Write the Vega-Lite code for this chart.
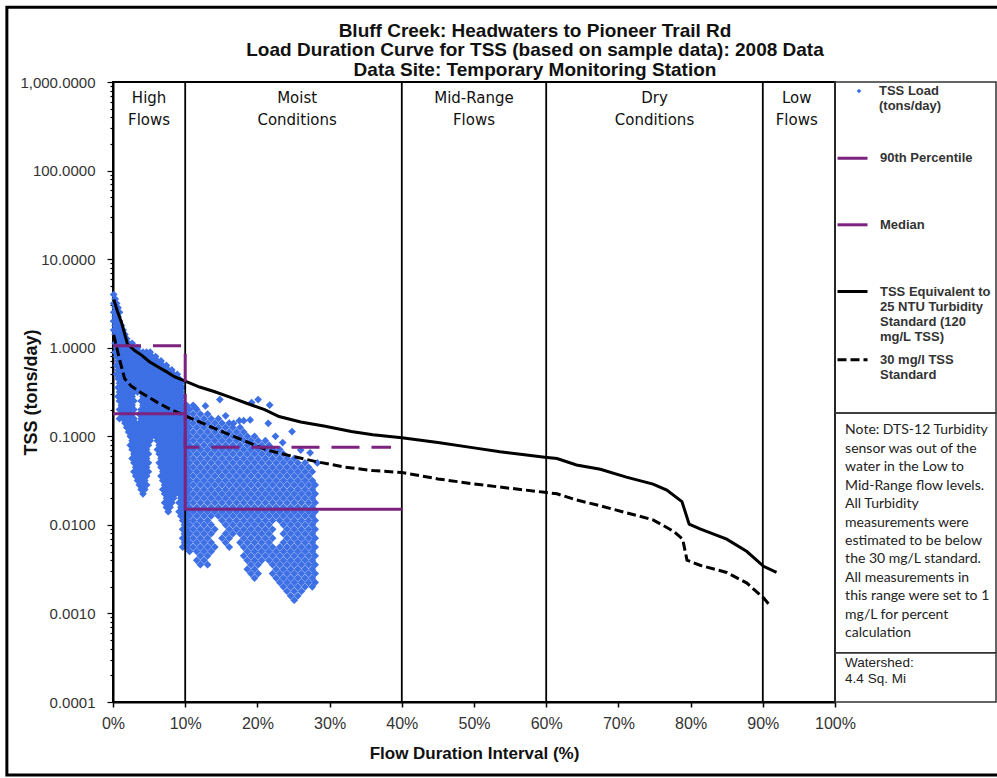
{
"$schema": "https://vega.github.io/schema/vega-lite/v6.json",
"width": 722, "height": 620,
"autosize": "none",
"padding": {"left": 113, "top": 82, "right": 162, "bottom": 76},
"background": "white",
"config": {"font": "Liberation Sans", "view": {"stroke": "black", "strokeWidth": 2},
  "legend": {"orient": "none", "title": null, "padding": 0, "labelFont": "Liberation Sans", "labelFontWeight": "bold", "labelFontSize": 13, "labelColor": "#333", "labelLimit": 200, "labelBaseline": "middle"}},
"title": {"text": ["Bluff Creek: Headwaters to Pioneer Trail Rd", "Load Duration Curve for TSS (based on sample data): 2008 Data", "Data Site: Temporary Monitoring Station"], "font": "Liberation Sans", "fontSize": 19, "fontWeight": "bold", "color": "#111", "anchor": "middle", "dx": 61, "offset": -74, "lineHeight": 19.5},
"datasets": {
"pts": [
{"x":0.1,"y":3.98},{"x":0.1,"y":3.16},{"x":0.1,"y":2.51},{"x":0.1,"y":2.0},{"x":0.1,"y":1.58},
{"x":0.3,"y":3.55},{"x":0.3,"y":2.82},{"x":0.3,"y":2.24},{"x":0.3,"y":1.78},{"x":0.3,"y":1.41},{"x":0.3,"y":1.12},{"x":0.3,"y":0.891},
{"x":0.5,"y":3.16},{"x":0.5,"y":2.51},{"x":0.5,"y":2.0},{"x":0.5,"y":1.58},{"x":0.5,"y":1.26},{"x":0.5,"y":1.0},{"x":0.5,"y":0.794},{"x":0.5,"y":0.631},{"x":0.5,"y":0.501},
{"x":0.7,"y":2.82},{"x":0.7,"y":2.24},{"x":0.7,"y":1.78},{"x":0.7,"y":1.41},{"x":0.7,"y":1.12},{"x":0.7,"y":0.891},{"x":0.7,"y":0.708},{"x":0.7,"y":0.562},{"x":0.7,"y":0.447},{"x":0.7,"y":0.355},{"x":0.7,"y":0.282},
{"x":0.9,"y":2.51},{"x":0.9,"y":2.0},{"x":0.9,"y":1.58},{"x":0.9,"y":1.26},{"x":0.9,"y":1.0},{"x":0.9,"y":0.794},{"x":0.9,"y":0.631},{"x":0.9,"y":0.501},{"x":0.9,"y":0.398},{"x":0.9,"y":0.316},{"x":0.9,"y":0.251},{"x":0.9,"y":0.2},{"x":0.9,"y":0.158},
{"x":1.15,"y":1.78},{"x":1.15,"y":1.41},{"x":1.15,"y":1.12},{"x":1.15,"y":0.891},{"x":1.15,"y":0.708},{"x":1.15,"y":0.562},{"x":1.15,"y":0.447},{"x":1.15,"y":0.355},{"x":1.15,"y":0.282},{"x":1.15,"y":0.224},{"x":1.15,"y":0.178},
{"x":1.4,"y":1.58},{"x":1.4,"y":1.26},{"x":1.4,"y":1.0},{"x":1.4,"y":0.794},{"x":1.4,"y":0.631},{"x":1.4,"y":0.501},{"x":1.4,"y":0.398},{"x":1.4,"y":0.316},{"x":1.4,"y":0.251},{"x":1.4,"y":0.2},{"x":1.4,"y":0.158},
{"x":1.65,"y":1.41},{"x":1.65,"y":1.12},{"x":1.65,"y":0.891},{"x":1.65,"y":0.708},{"x":1.65,"y":0.562},{"x":1.65,"y":0.447},{"x":1.65,"y":0.355},{"x":1.65,"y":0.282},{"x":1.65,"y":0.224},{"x":1.65,"y":0.178},{"x":1.65,"y":0.141},
{"x":1.9,"y":1.26},{"x":1.9,"y":1.0},{"x":1.9,"y":0.794},{"x":1.9,"y":0.631},{"x":1.9,"y":0.501},{"x":1.9,"y":0.398},{"x":1.9,"y":0.316},{"x":1.9,"y":0.251},{"x":1.9,"y":0.2},{"x":1.9,"y":0.158},{"x":1.9,"y":0.126},
{"x":2.15,"y":1.12},{"x":2.15,"y":0.891},{"x":2.15,"y":0.708},{"x":2.15,"y":0.562},{"x":2.15,"y":0.447},{"x":2.15,"y":0.355},{"x":2.15,"y":0.282},{"x":2.15,"y":0.224},{"x":2.15,"y":0.178},{"x":2.15,"y":0.141},{"x":2.15,"y":0.112},
{"x":2.4,"y":1.0},{"x":2.4,"y":0.794},{"x":2.4,"y":0.631},{"x":2.4,"y":0.501},{"x":2.4,"y":0.398},{"x":2.4,"y":0.316},{"x":2.4,"y":0.251},{"x":2.4,"y":0.2},{"x":2.4,"y":0.158},{"x":2.4,"y":0.126},{"x":2.4,"y":0.1},{"x":2.4,"y":0.0794},
{"x":2.65,"y":1.12},{"x":2.65,"y":0.891},{"x":2.65,"y":0.708},{"x":2.65,"y":0.562},{"x":2.65,"y":0.447},{"x":2.65,"y":0.355},{"x":2.65,"y":0.282},{"x":2.65,"y":0.224},{"x":2.65,"y":0.178},{"x":2.65,"y":0.141},{"x":2.65,"y":0.112},{"x":2.65,"y":0.0891},{"x":2.65,"y":0.0708},{"x":2.65,"y":0.0562},
{"x":2.9,"y":1.0},{"x":2.9,"y":0.794},{"x":2.9,"y":0.631},{"x":2.9,"y":0.501},{"x":2.9,"y":0.398},{"x":2.9,"y":0.316},{"x":2.9,"y":0.251},{"x":2.9,"y":0.2},{"x":2.9,"y":0.158},{"x":2.9,"y":0.126},{"x":2.9,"y":0.1},{"x":2.9,"y":0.0794},{"x":2.9,"y":0.0631},{"x":2.9,"y":0.0501},{"x":2.9,"y":0.0398},
{"x":3.15,"y":0.891},{"x":3.15,"y":0.708},{"x":3.15,"y":0.562},{"x":3.15,"y":0.447},{"x":3.15,"y":0.355},{"x":3.15,"y":0.141},{"x":3.15,"y":0.112},{"x":3.15,"y":0.0891},{"x":3.15,"y":0.0708},{"x":3.15,"y":0.0562},{"x":3.15,"y":0.0447},{"x":3.15,"y":0.0355},
{"x":3.4,"y":1.0},{"x":3.4,"y":0.794},{"x":3.4,"y":0.631},{"x":3.4,"y":0.501},{"x":3.4,"y":0.398},{"x":3.4,"y":0.316},{"x":3.4,"y":0.126},{"x":3.4,"y":0.1},{"x":3.4,"y":0.0794},{"x":3.4,"y":0.0631},{"x":3.4,"y":0.0501},{"x":3.4,"y":0.0398},{"x":3.4,"y":0.0316},
{"x":3.65,"y":0.891},{"x":3.65,"y":0.708},{"x":3.65,"y":0.562},{"x":3.65,"y":0.447},{"x":3.65,"y":0.355},{"x":3.65,"y":0.178},{"x":3.65,"y":0.141},{"x":3.65,"y":0.112},{"x":3.65,"y":0.0891},{"x":3.65,"y":0.0708},{"x":3.65,"y":0.0562},{"x":3.65,"y":0.0447},{"x":3.65,"y":0.0355},{"x":3.65,"y":0.0282},
{"x":3.9,"y":0.794},{"x":3.9,"y":0.631},{"x":3.9,"y":0.501},{"x":3.9,"y":0.398},{"x":3.9,"y":0.316},{"x":3.9,"y":0.251},{"x":3.9,"y":0.2},{"x":3.9,"y":0.158},{"x":3.9,"y":0.126},{"x":3.9,"y":0.1},{"x":3.9,"y":0.0794},{"x":3.9,"y":0.0631},{"x":3.9,"y":0.0501},{"x":3.9,"y":0.0398},{"x":3.9,"y":0.0316},{"x":3.9,"y":0.0251},
{"x":4.15,"y":0.891},{"x":4.15,"y":0.708},{"x":4.15,"y":0.562},{"x":4.15,"y":0.447},{"x":4.15,"y":0.355},{"x":4.15,"y":0.282},{"x":4.15,"y":0.224},{"x":4.15,"y":0.178},{"x":4.15,"y":0.141},{"x":4.15,"y":0.112},{"x":4.15,"y":0.0891},{"x":4.15,"y":0.0708},{"x":4.15,"y":0.0562},{"x":4.15,"y":0.0447},{"x":4.15,"y":0.0355},{"x":4.15,"y":0.0282},{"x":4.15,"y":0.0224},
{"x":4.4,"y":0.794},{"x":4.4,"y":0.631},{"x":4.4,"y":0.501},{"x":4.4,"y":0.398},{"x":4.4,"y":0.316},{"x":4.4,"y":0.251},{"x":4.4,"y":0.2},{"x":4.4,"y":0.158},{"x":4.4,"y":0.126},{"x":4.4,"y":0.1},{"x":4.4,"y":0.0794},{"x":4.4,"y":0.0631},{"x":4.4,"y":0.0501},{"x":4.4,"y":0.0398},{"x":4.4,"y":0.0316},{"x":4.4,"y":0.0251},
{"x":4.65,"y":0.891},{"x":4.65,"y":0.708},{"x":4.65,"y":0.562},{"x":4.65,"y":0.447},{"x":4.65,"y":0.355},{"x":4.65,"y":0.282},{"x":4.65,"y":0.224},{"x":4.65,"y":0.178},{"x":4.65,"y":0.141},{"x":4.65,"y":0.112},{"x":4.65,"y":0.0891},{"x":4.65,"y":0.0708},{"x":4.65,"y":0.0562},{"x":4.65,"y":0.0447},{"x":4.65,"y":0.0355},{"x":4.65,"y":0.0282},
{"x":4.9,"y":0.794},{"x":4.9,"y":0.631},{"x":4.9,"y":0.501},{"x":4.9,"y":0.398},{"x":4.9,"y":0.316},{"x":4.9,"y":0.251},{"x":4.9,"y":0.2},{"x":4.9,"y":0.158},{"x":4.9,"y":0.126},{"x":4.9,"y":0.1},{"x":4.9,"y":0.0794},{"x":4.9,"y":0.0631},{"x":4.9,"y":0.0501},{"x":4.9,"y":0.0398},
{"x":5.15,"y":0.891},{"x":5.15,"y":0.708},{"x":5.15,"y":0.562},{"x":5.15,"y":0.447},{"x":5.15,"y":0.355},{"x":5.15,"y":0.282},{"x":5.15,"y":0.224},{"x":5.15,"y":0.178},{"x":5.15,"y":0.141},{"x":5.15,"y":0.112},{"x":5.15,"y":0.0891},
{"x":5.4,"y":0.794},{"x":5.4,"y":0.631},{"x":5.4,"y":0.501},{"x":5.4,"y":0.398},{"x":5.4,"y":0.316},{"x":5.4,"y":0.251},{"x":5.4,"y":0.2},{"x":5.4,"y":0.158},{"x":5.4,"y":0.126},{"x":5.4,"y":0.1},
{"x":5.65,"y":0.708},{"x":5.65,"y":0.562},{"x":5.65,"y":0.447},{"x":5.65,"y":0.355},{"x":5.65,"y":0.282},{"x":5.65,"y":0.224},{"x":5.65,"y":0.178},{"x":5.65,"y":0.141},{"x":5.65,"y":0.112},
{"x":5.9,"y":0.794},{"x":5.9,"y":0.631},{"x":5.9,"y":0.501},{"x":5.9,"y":0.398},{"x":5.9,"y":0.316},{"x":5.9,"y":0.251},{"x":5.9,"y":0.2},{"x":5.9,"y":0.158},{"x":5.9,"y":0.126},{"x":5.9,"y":0.1},
{"x":6.15,"y":0.708},{"x":6.15,"y":0.562},{"x":6.15,"y":0.447},{"x":6.15,"y":0.355},{"x":6.15,"y":0.282},{"x":6.15,"y":0.224},{"x":6.15,"y":0.178},{"x":6.15,"y":0.141},{"x":6.15,"y":0.112},{"x":6.15,"y":0.0891},{"x":6.15,"y":0.0708},
{"x":6.4,"y":0.631},{"x":6.4,"y":0.501},{"x":6.4,"y":0.398},{"x":6.4,"y":0.316},{"x":6.4,"y":0.251},{"x":6.4,"y":0.2},{"x":6.4,"y":0.158},{"x":6.4,"y":0.126},{"x":6.4,"y":0.1},{"x":6.4,"y":0.0794},{"x":6.4,"y":0.0631},{"x":6.4,"y":0.0501},
{"x":6.65,"y":0.708},{"x":6.65,"y":0.562},{"x":6.65,"y":0.447},{"x":6.65,"y":0.355},{"x":6.65,"y":0.282},{"x":6.65,"y":0.224},{"x":6.65,"y":0.178},{"x":6.65,"y":0.141},{"x":6.65,"y":0.112},{"x":6.65,"y":0.0891},{"x":6.65,"y":0.0708},{"x":6.65,"y":0.0562},{"x":6.65,"y":0.0447},{"x":6.65,"y":0.0355},
{"x":6.9,"y":0.631},{"x":6.9,"y":0.501},{"x":6.9,"y":0.398},{"x":6.9,"y":0.316},{"x":6.9,"y":0.251},{"x":6.9,"y":0.2},{"x":6.9,"y":0.158},{"x":6.9,"y":0.126},{"x":6.9,"y":0.1},{"x":6.9,"y":0.0794},{"x":6.9,"y":0.0631},{"x":6.9,"y":0.0501},{"x":6.9,"y":0.0398},{"x":6.9,"y":0.0316},{"x":6.9,"y":0.0251},
{"x":7.15,"y":0.562},{"x":7.15,"y":0.447},{"x":7.15,"y":0.355},{"x":7.15,"y":0.282},{"x":7.15,"y":0.224},{"x":7.15,"y":0.178},{"x":7.15,"y":0.141},{"x":7.15,"y":0.112},{"x":7.15,"y":0.0891},{"x":7.15,"y":0.0708},{"x":7.15,"y":0.0562},{"x":7.15,"y":0.0447},{"x":7.15,"y":0.0355},{"x":7.15,"y":0.0282},{"x":7.15,"y":0.0224},{"x":7.15,"y":0.0178},
{"x":7.4,"y":0.631},{"x":7.4,"y":0.501},{"x":7.4,"y":0.398},{"x":7.4,"y":0.316},{"x":7.4,"y":0.251},{"x":7.4,"y":0.2},{"x":7.4,"y":0.158},{"x":7.4,"y":0.126},{"x":7.4,"y":0.1},{"x":7.4,"y":0.0794},{"x":7.4,"y":0.0631},{"x":7.4,"y":0.0501},{"x":7.4,"y":0.0398},{"x":7.4,"y":0.0316},{"x":7.4,"y":0.0251},{"x":7.4,"y":0.02},{"x":7.4,"y":0.0158},
{"x":7.65,"y":0.562},{"x":7.65,"y":0.447},{"x":7.65,"y":0.355},{"x":7.65,"y":0.282},{"x":7.65,"y":0.224},{"x":7.65,"y":0.178},{"x":7.65,"y":0.141},{"x":7.65,"y":0.112},{"x":7.65,"y":0.0891},{"x":7.65,"y":0.0708},{"x":7.65,"y":0.0562},{"x":7.65,"y":0.0447},{"x":7.65,"y":0.0355},{"x":7.65,"y":0.0282},{"x":7.65,"y":0.0224},{"x":7.65,"y":0.0178},{"x":7.65,"y":0.0141},
{"x":7.9,"y":0.501},{"x":7.9,"y":0.398},{"x":7.9,"y":0.316},{"x":7.9,"y":0.251},{"x":7.9,"y":0.2},{"x":7.9,"y":0.158},{"x":7.9,"y":0.126},{"x":7.9,"y":0.1},{"x":7.9,"y":0.0794},{"x":7.9,"y":0.0631},{"x":7.9,"y":0.0501},{"x":7.9,"y":0.0398},{"x":7.9,"y":0.0316},{"x":7.9,"y":0.0251},{"x":7.9,"y":0.02},{"x":7.9,"y":0.0158},
{"x":8.15,"y":0.562},{"x":8.15,"y":0.447},{"x":8.15,"y":0.355},{"x":8.15,"y":0.282},{"x":8.15,"y":0.224},{"x":8.15,"y":0.178},{"x":8.15,"y":0.141},{"x":8.15,"y":0.112},{"x":8.15,"y":0.0891},{"x":8.15,"y":0.0708},{"x":8.15,"y":0.0562},{"x":8.15,"y":0.0447},{"x":8.15,"y":0.0355},{"x":8.15,"y":0.0282},{"x":8.15,"y":0.0224},{"x":8.15,"y":0.0178},
{"x":8.4,"y":0.501},{"x":8.4,"y":0.398},{"x":8.4,"y":0.316},{"x":8.4,"y":0.251},{"x":8.4,"y":0.2},{"x":8.4,"y":0.158},{"x":8.4,"y":0.126},{"x":8.4,"y":0.1},{"x":8.4,"y":0.0794},{"x":8.4,"y":0.0631},{"x":8.4,"y":0.0501},{"x":8.4,"y":0.0398},{"x":8.4,"y":0.0316},{"x":8.4,"y":0.0251},{"x":8.4,"y":0.02},
{"x":8.65,"y":0.447},{"x":8.65,"y":0.355},{"x":8.65,"y":0.282},{"x":8.65,"y":0.224},{"x":8.65,"y":0.178},{"x":8.65,"y":0.141},{"x":8.65,"y":0.112},{"x":8.65,"y":0.0891},{"x":8.65,"y":0.0708},{"x":8.65,"y":0.0562},{"x":8.65,"y":0.0447},{"x":8.65,"y":0.0355},{"x":8.65,"y":0.0282},{"x":8.65,"y":0.0224},
{"x":8.9,"y":0.501},{"x":8.9,"y":0.398},{"x":8.9,"y":0.316},{"x":8.9,"y":0.251},{"x":8.9,"y":0.2},{"x":8.9,"y":0.158},{"x":8.9,"y":0.126},{"x":8.9,"y":0.1},{"x":8.9,"y":0.0794},{"x":8.9,"y":0.0631},{"x":8.9,"y":0.0501},{"x":8.9,"y":0.0398},{"x":8.9,"y":0.0316},{"x":8.9,"y":0.0251},
{"x":9.15,"y":0.447},{"x":9.15,"y":0.355},{"x":9.15,"y":0.282},{"x":9.15,"y":0.224},{"x":9.15,"y":0.178},{"x":9.15,"y":0.141},{"x":9.15,"y":0.112},{"x":9.15,"y":0.0891},{"x":9.15,"y":0.0708},{"x":9.15,"y":0.0562},{"x":9.15,"y":0.0447},{"x":9.15,"y":0.0355},{"x":9.15,"y":0.0282},{"x":9.15,"y":0.0224},{"x":9.15,"y":0.0178},{"x":9.15,"y":0.0141},
{"x":9.4,"y":0.398},{"x":9.4,"y":0.316},{"x":9.4,"y":0.251},{"x":9.4,"y":0.2},{"x":9.4,"y":0.158},{"x":9.4,"y":0.126},{"x":9.4,"y":0.1},{"x":9.4,"y":0.0794},{"x":9.4,"y":0.0631},{"x":9.4,"y":0.0501},{"x":9.4,"y":0.0398},{"x":9.4,"y":0.0316},{"x":9.4,"y":0.0251},{"x":9.4,"y":0.02},{"x":9.4,"y":0.0158},{"x":9.4,"y":0.0126},
{"x":9.65,"y":0.355},{"x":9.65,"y":0.282},{"x":9.65,"y":0.224},{"x":9.65,"y":0.178},{"x":9.65,"y":0.141},{"x":9.65,"y":0.112},{"x":9.65,"y":0.0891},{"x":9.65,"y":0.0708},{"x":9.65,"y":0.0562},{"x":9.65,"y":0.0447},{"x":9.65,"y":0.0355},{"x":9.65,"y":0.0282},{"x":9.65,"y":0.0224},{"x":9.65,"y":0.0178},{"x":9.65,"y":0.0141},{"x":9.65,"y":0.0112},{"x":9.65,"y":0.00891},{"x":9.65,"y":0.00708},{"x":9.65,"y":0.00562},
{"x":9.9,"y":0.2},{"x":9.9,"y":0.158},{"x":9.9,"y":0.126},{"x":9.9,"y":0.1},{"x":9.9,"y":0.0794},{"x":9.9,"y":0.0631},{"x":9.9,"y":0.0501},{"x":9.9,"y":0.0398},{"x":9.9,"y":0.0316},{"x":9.9,"y":0.0251},{"x":9.9,"y":0.02},{"x":9.9,"y":0.0158},{"x":9.9,"y":0.0126},{"x":9.9,"y":0.01},{"x":9.9,"y":0.00794},{"x":9.9,"y":0.00631},
{"x":10.2,"y":0.224},{"x":10.2,"y":0.178},{"x":10.2,"y":0.141},{"x":10.2,"y":0.112},{"x":10.2,"y":0.0891},{"x":10.2,"y":0.0708},{"x":10.2,"y":0.0562},{"x":10.2,"y":0.0447},{"x":10.2,"y":0.0355},{"x":10.2,"y":0.0282},{"x":10.2,"y":0.0224},{"x":10.2,"y":0.0178},{"x":10.2,"y":0.0141},{"x":10.2,"y":0.0112},{"x":10.2,"y":0.00891},{"x":10.2,"y":0.00708},{"x":10.2,"y":0.00562},
{"x":10.6,"y":0.2},{"x":10.6,"y":0.158},{"x":10.6,"y":0.126},{"x":10.6,"y":0.1},{"x":10.6,"y":0.0794},{"x":10.6,"y":0.0631},{"x":10.6,"y":0.0501},{"x":10.6,"y":0.0398},{"x":10.6,"y":0.0316},{"x":10.6,"y":0.0251},{"x":10.6,"y":0.02},{"x":10.6,"y":0.0158},{"x":10.6,"y":0.0126},{"x":10.6,"y":0.01},{"x":10.6,"y":0.00794},{"x":10.6,"y":0.00631},{"x":10.6,"y":0.00501},
{"x":11.1,"y":0.224},{"x":11.1,"y":0.178},{"x":11.1,"y":0.141},{"x":11.1,"y":0.112},{"x":11.1,"y":0.0891},{"x":11.1,"y":0.0708},{"x":11.1,"y":0.0562},{"x":11.1,"y":0.0447},{"x":11.1,"y":0.0355},{"x":11.1,"y":0.0282},{"x":11.1,"y":0.0224},{"x":11.1,"y":0.0178},{"x":11.1,"y":0.0141},{"x":11.1,"y":0.0112},{"x":11.1,"y":0.00891},{"x":11.1,"y":0.00708},{"x":11.1,"y":0.00562},
{"x":11.6,"y":0.2},{"x":11.6,"y":0.158},{"x":11.6,"y":0.126},{"x":11.6,"y":0.1},{"x":11.6,"y":0.0794},{"x":11.6,"y":0.0631},{"x":11.6,"y":0.0501},{"x":11.6,"y":0.0398},{"x":11.6,"y":0.0316},{"x":11.6,"y":0.0251},{"x":11.6,"y":0.02},{"x":11.6,"y":0.0158},{"x":11.6,"y":0.0126},{"x":11.6,"y":0.01},{"x":11.6,"y":0.00794},{"x":11.6,"y":0.00631},{"x":11.6,"y":0.00501},{"x":11.6,"y":0.00398},
{"x":12.1,"y":0.178},{"x":12.1,"y":0.141},{"x":12.1,"y":0.112},{"x":12.1,"y":0.0891},{"x":12.1,"y":0.0708},{"x":12.1,"y":0.0562},{"x":12.1,"y":0.0447},{"x":12.1,"y":0.0355},{"x":12.1,"y":0.0282},{"x":12.1,"y":0.0224},{"x":12.1,"y":0.0178},{"x":12.1,"y":0.0141},{"x":12.1,"y":0.0112},{"x":12.1,"y":0.00891},{"x":12.1,"y":0.00708},{"x":12.1,"y":0.00562},{"x":12.1,"y":0.00447},{"x":12.1,"y":0.00355},
{"x":12.6,"y":0.158},{"x":12.6,"y":0.126},{"x":12.6,"y":0.1},{"x":12.6,"y":0.0794},{"x":12.6,"y":0.0631},{"x":12.6,"y":0.0501},{"x":12.6,"y":0.0398},{"x":12.6,"y":0.0316},{"x":12.6,"y":0.0251},{"x":12.6,"y":0.02},{"x":12.6,"y":0.0158},{"x":12.6,"y":0.0126},{"x":12.6,"y":0.01},{"x":12.6,"y":0.00794},{"x":12.6,"y":0.00631},{"x":12.6,"y":0.00501},{"x":12.6,"y":0.00398},
{"x":13.1,"y":0.178},{"x":13.1,"y":0.141},{"x":13.1,"y":0.112},{"x":13.1,"y":0.0891},{"x":13.1,"y":0.0708},{"x":13.1,"y":0.0562},{"x":13.1,"y":0.0447},{"x":13.1,"y":0.0355},{"x":13.1,"y":0.0282},{"x":13.1,"y":0.0224},{"x":13.1,"y":0.0178},{"x":13.1,"y":0.0141},{"x":13.1,"y":0.0112},{"x":13.1,"y":0.00891},{"x":13.1,"y":0.00708},{"x":13.1,"y":0.00562},{"x":13.1,"y":0.00447},{"x":13.1,"y":0.00355},
{"x":13.6,"y":0.158},{"x":13.6,"y":0.126},{"x":13.6,"y":0.1},{"x":13.6,"y":0.0794},{"x":13.6,"y":0.0631},{"x":13.6,"y":0.0501},{"x":13.6,"y":0.0398},{"x":13.6,"y":0.0316},{"x":13.6,"y":0.0251},{"x":13.6,"y":0.02},{"x":13.6,"y":0.0158},{"x":13.6,"y":0.0126},{"x":13.6,"y":0.01},{"x":13.6,"y":0.00794},{"x":13.6,"y":0.00631},{"x":13.6,"y":0.00501},
{"x":14.1,"y":0.141},{"x":14.1,"y":0.112},{"x":14.1,"y":0.0891},{"x":14.1,"y":0.0708},{"x":14.1,"y":0.0562},{"x":14.1,"y":0.0447},{"x":14.1,"y":0.0355},{"x":14.1,"y":0.0282},{"x":14.1,"y":0.0224},{"x":14.1,"y":0.0178},{"x":14.1,"y":0.0141},{"x":14.1,"y":0.00891},{"x":14.1,"y":0.00562},
{"x":14.6,"y":0.158},{"x":14.6,"y":0.126},{"x":14.6,"y":0.1},{"x":14.6,"y":0.0794},{"x":14.6,"y":0.0631},{"x":14.6,"y":0.0501},{"x":14.6,"y":0.0398},{"x":14.6,"y":0.0316},{"x":14.6,"y":0.0251},{"x":14.6,"y":0.02},{"x":14.6,"y":0.0158},{"x":14.6,"y":0.0126},
{"x":15.1,"y":0.141},{"x":15.1,"y":0.112},{"x":15.1,"y":0.0891},{"x":15.1,"y":0.0708},{"x":15.1,"y":0.0562},{"x":15.1,"y":0.0447},{"x":15.1,"y":0.0355},{"x":15.1,"y":0.0282},{"x":15.1,"y":0.0224},{"x":15.1,"y":0.0178},{"x":15.1,"y":0.0141},{"x":15.1,"y":0.0112},{"x":15.1,"y":0.00708},
{"x":15.6,"y":0.126},{"x":15.6,"y":0.1},{"x":15.6,"y":0.0794},{"x":15.6,"y":0.0631},{"x":15.6,"y":0.0501},{"x":15.6,"y":0.0398},{"x":15.6,"y":0.0316},{"x":15.6,"y":0.0251},{"x":15.6,"y":0.02},{"x":15.6,"y":0.0158},{"x":15.6,"y":0.0126},{"x":15.6,"y":0.01},{"x":15.6,"y":0.00794},{"x":15.6,"y":0.00631},
{"x":16.1,"y":0.141},{"x":16.1,"y":0.112},{"x":16.1,"y":0.0891},{"x":16.1,"y":0.0708},{"x":16.1,"y":0.0562},{"x":16.1,"y":0.0447},{"x":16.1,"y":0.0355},{"x":16.1,"y":0.0282},{"x":16.1,"y":0.0224},{"x":16.1,"y":0.0178},{"x":16.1,"y":0.0141},{"x":16.1,"y":0.0112},{"x":16.1,"y":0.00891},{"x":16.1,"y":0.00708},{"x":16.1,"y":0.00562},
{"x":16.6,"y":0.126},{"x":16.6,"y":0.1},{"x":16.6,"y":0.0794},{"x":16.6,"y":0.0631},{"x":16.6,"y":0.0501},{"x":16.6,"y":0.0398},{"x":16.6,"y":0.0316},{"x":16.6,"y":0.0251},{"x":16.6,"y":0.02},{"x":16.6,"y":0.0158},{"x":16.6,"y":0.0126},{"x":16.6,"y":0.01},{"x":16.6,"y":0.00794},
{"x":17.1,"y":0.112},{"x":17.1,"y":0.0891},{"x":17.1,"y":0.0708},{"x":17.1,"y":0.0562},{"x":17.1,"y":0.0447},{"x":17.1,"y":0.0355},{"x":17.1,"y":0.0282},{"x":17.1,"y":0.0224},{"x":17.1,"y":0.0178},{"x":17.1,"y":0.0141},{"x":17.1,"y":0.0112},{"x":17.1,"y":0.00891},
{"x":17.6,"y":0.126},{"x":17.6,"y":0.1},{"x":17.6,"y":0.0794},{"x":17.6,"y":0.0631},{"x":17.6,"y":0.0501},{"x":17.6,"y":0.0398},{"x":17.6,"y":0.0316},{"x":17.6,"y":0.0251},{"x":17.6,"y":0.02},{"x":17.6,"y":0.0158},{"x":17.6,"y":0.0126},{"x":17.6,"y":0.01},{"x":17.6,"y":0.00794},{"x":17.6,"y":0.00631},
{"x":18.1,"y":0.112},{"x":18.1,"y":0.0891},{"x":18.1,"y":0.0708},{"x":18.1,"y":0.0562},{"x":18.1,"y":0.0447},{"x":18.1,"y":0.0355},{"x":18.1,"y":0.0282},{"x":18.1,"y":0.0224},{"x":18.1,"y":0.0178},{"x":18.1,"y":0.0141},{"x":18.1,"y":0.0112},{"x":18.1,"y":0.00891},{"x":18.1,"y":0.00708},{"x":18.1,"y":0.00562},{"x":18.1,"y":0.00447},
{"x":18.6,"y":0.1},{"x":18.6,"y":0.0794},{"x":18.6,"y":0.0631},{"x":18.6,"y":0.0501},{"x":18.6,"y":0.0398},{"x":18.6,"y":0.0316},{"x":18.6,"y":0.0251},{"x":18.6,"y":0.02},{"x":18.6,"y":0.0158},{"x":18.6,"y":0.0126},{"x":18.6,"y":0.01},{"x":18.6,"y":0.00794},{"x":18.6,"y":0.00631},{"x":18.6,"y":0.00501},{"x":18.6,"y":0.00398},{"x":18.6,"y":0.00316},
{"x":19.1,"y":0.0891},{"x":19.1,"y":0.0708},{"x":19.1,"y":0.0562},{"x":19.1,"y":0.0447},{"x":19.1,"y":0.0355},{"x":19.1,"y":0.0282},{"x":19.1,"y":0.0224},{"x":19.1,"y":0.0178},{"x":19.1,"y":0.0141},{"x":19.1,"y":0.0112},{"x":19.1,"y":0.00891},{"x":19.1,"y":0.00708},{"x":19.1,"y":0.00562},{"x":19.1,"y":0.00447},{"x":19.1,"y":0.00355},{"x":19.1,"y":0.00282},
{"x":19.6,"y":0.1},{"x":19.6,"y":0.0794},{"x":19.6,"y":0.0631},{"x":19.6,"y":0.0501},{"x":19.6,"y":0.0398},{"x":19.6,"y":0.0316},{"x":19.6,"y":0.0251},{"x":19.6,"y":0.02},{"x":19.6,"y":0.0158},{"x":19.6,"y":0.0126},{"x":19.6,"y":0.01},{"x":19.6,"y":0.00794},{"x":19.6,"y":0.00631},{"x":19.6,"y":0.00501},{"x":19.6,"y":0.00398},{"x":19.6,"y":0.00316},{"x":19.6,"y":0.00251},
{"x":20.1,"y":0.0891},{"x":20.1,"y":0.0708},{"x":20.1,"y":0.0562},{"x":20.1,"y":0.0447},{"x":20.1,"y":0.0355},{"x":20.1,"y":0.0282},{"x":20.1,"y":0.0224},{"x":20.1,"y":0.0178},{"x":20.1,"y":0.0141},{"x":20.1,"y":0.0112},{"x":20.1,"y":0.00891},{"x":20.1,"y":0.00708},{"x":20.1,"y":0.00562},{"x":20.1,"y":0.00447},{"x":20.1,"y":0.00355},{"x":20.1,"y":0.00282},
{"x":20.6,"y":0.0794},{"x":20.6,"y":0.0631},{"x":20.6,"y":0.0501},{"x":20.6,"y":0.0398},{"x":20.6,"y":0.0316},{"x":20.6,"y":0.0251},{"x":20.6,"y":0.02},{"x":20.6,"y":0.0158},{"x":20.6,"y":0.0126},{"x":20.6,"y":0.01},{"x":20.6,"y":0.00794},{"x":20.6,"y":0.00631},{"x":20.6,"y":0.00501},{"x":20.6,"y":0.00398},
{"x":21.1,"y":0.0891},{"x":21.1,"y":0.0708},{"x":21.1,"y":0.0562},{"x":21.1,"y":0.0447},{"x":21.1,"y":0.0355},{"x":21.1,"y":0.0282},{"x":21.1,"y":0.0224},{"x":21.1,"y":0.0178},{"x":21.1,"y":0.0141},{"x":21.1,"y":0.0112},{"x":21.1,"y":0.00891},{"x":21.1,"y":0.00708},{"x":21.1,"y":0.00562},{"x":21.1,"y":0.00447},
{"x":21.6,"y":0.0794},{"x":21.6,"y":0.0631},{"x":21.6,"y":0.0501},{"x":21.6,"y":0.0398},{"x":21.6,"y":0.0316},{"x":21.6,"y":0.0251},{"x":21.6,"y":0.02},{"x":21.6,"y":0.0158},{"x":21.6,"y":0.0126},{"x":21.6,"y":0.01},{"x":21.6,"y":0.00794},{"x":21.6,"y":0.00631},{"x":21.6,"y":0.00501},{"x":21.6,"y":0.00398},
{"x":22.1,"y":0.0708},{"x":22.1,"y":0.0562},{"x":22.1,"y":0.0447},{"x":22.1,"y":0.0355},{"x":22.1,"y":0.0282},{"x":22.1,"y":0.0224},{"x":22.1,"y":0.0178},{"x":22.1,"y":0.0141},{"x":22.1,"y":0.0112},{"x":22.1,"y":0.00891},{"x":22.1,"y":0.00708},{"x":22.1,"y":0.00562},{"x":22.1,"y":0.00447},{"x":22.1,"y":0.00355},{"x":22.1,"y":0.00282},
{"x":22.6,"y":0.0631},{"x":22.6,"y":0.0501},{"x":22.6,"y":0.0398},{"x":22.6,"y":0.0316},{"x":22.6,"y":0.0251},{"x":22.6,"y":0.02},{"x":22.6,"y":0.0158},{"x":22.6,"y":0.0126},{"x":22.6,"y":0.00501},{"x":22.6,"y":0.00398},{"x":22.6,"y":0.00316},{"x":22.6,"y":0.00251},
{"x":23.1,"y":0.0708},{"x":23.1,"y":0.0562},{"x":23.1,"y":0.0447},{"x":23.1,"y":0.0355},{"x":23.1,"y":0.0282},{"x":23.1,"y":0.0224},{"x":23.1,"y":0.0178},{"x":23.1,"y":0.0141},{"x":23.1,"y":0.0112},{"x":23.1,"y":0.00562},{"x":23.1,"y":0.00447},{"x":23.1,"y":0.00355},{"x":23.1,"y":0.00282},{"x":23.1,"y":0.00224},
{"x":23.6,"y":0.0631},{"x":23.6,"y":0.0501},{"x":23.6,"y":0.0398},{"x":23.6,"y":0.0316},{"x":23.6,"y":0.0251},{"x":23.6,"y":0.02},{"x":23.6,"y":0.0158},{"x":23.6,"y":0.0126},{"x":23.6,"y":0.01},{"x":23.6,"y":0.00794},{"x":23.6,"y":0.00631},{"x":23.6,"y":0.00501},{"x":23.6,"y":0.00398},{"x":23.6,"y":0.00316},{"x":23.6,"y":0.00251},{"x":23.6,"y":0.002},
{"x":24.1,"y":0.0562},{"x":24.1,"y":0.0447},{"x":24.1,"y":0.0355},{"x":24.1,"y":0.0282},{"x":24.1,"y":0.0224},{"x":24.1,"y":0.0178},{"x":24.1,"y":0.0141},{"x":24.1,"y":0.0112},{"x":24.1,"y":0.00891},{"x":24.1,"y":0.00708},{"x":24.1,"y":0.00562},{"x":24.1,"y":0.00447},{"x":24.1,"y":0.00355},{"x":24.1,"y":0.00282},{"x":24.1,"y":0.00224},{"x":24.1,"y":0.00178},
{"x":24.6,"y":0.0501},{"x":24.6,"y":0.0398},{"x":24.6,"y":0.0316},{"x":24.6,"y":0.0251},{"x":24.6,"y":0.02},{"x":24.6,"y":0.0158},{"x":24.6,"y":0.0126},{"x":24.6,"y":0.01},{"x":24.6,"y":0.00794},{"x":24.6,"y":0.00631},{"x":24.6,"y":0.00501},{"x":24.6,"y":0.00398},{"x":24.6,"y":0.00316},{"x":24.6,"y":0.00251},{"x":24.6,"y":0.002},{"x":24.6,"y":0.00158},
{"x":25.1,"y":0.0562},{"x":25.1,"y":0.0447},{"x":25.1,"y":0.0355},{"x":25.1,"y":0.0282},{"x":25.1,"y":0.0224},{"x":25.1,"y":0.0178},{"x":25.1,"y":0.0141},{"x":25.1,"y":0.0112},{"x":25.1,"y":0.00891},{"x":25.1,"y":0.00708},{"x":25.1,"y":0.00562},{"x":25.1,"y":0.00447},{"x":25.1,"y":0.00355},{"x":25.1,"y":0.00282},{"x":25.1,"y":0.00224},{"x":25.1,"y":0.00178},{"x":25.1,"y":0.00141},
{"x":25.6,"y":0.0501},{"x":25.6,"y":0.0398},{"x":25.6,"y":0.0316},{"x":25.6,"y":0.0251},{"x":25.6,"y":0.02},{"x":25.6,"y":0.0158},{"x":25.6,"y":0.0126},{"x":25.6,"y":0.01},{"x":25.6,"y":0.00794},{"x":25.6,"y":0.00631},{"x":25.6,"y":0.00501},{"x":25.6,"y":0.00398},{"x":25.6,"y":0.00316},{"x":25.6,"y":0.00251},{"x":25.6,"y":0.002},{"x":25.6,"y":0.00158},
{"x":26.1,"y":0.0447},{"x":26.1,"y":0.0355},{"x":26.1,"y":0.0282},{"x":26.1,"y":0.0224},{"x":26.1,"y":0.0178},{"x":26.1,"y":0.0141},{"x":26.1,"y":0.0112},{"x":26.1,"y":0.00891},{"x":26.1,"y":0.00708},{"x":26.1,"y":0.00562},{"x":26.1,"y":0.00447},{"x":26.1,"y":0.00355},{"x":26.1,"y":0.00282},{"x":26.1,"y":0.00224},{"x":26.1,"y":0.00178},
{"x":26.6,"y":0.0501},{"x":26.6,"y":0.0398},{"x":26.6,"y":0.0316},{"x":26.6,"y":0.0251},{"x":26.6,"y":0.02},{"x":26.6,"y":0.0158},{"x":26.6,"y":0.0126},{"x":26.6,"y":0.01},{"x":26.6,"y":0.00794},{"x":26.6,"y":0.00631},{"x":26.6,"y":0.00501},{"x":26.6,"y":0.00398},{"x":26.6,"y":0.00316},{"x":26.6,"y":0.00251},{"x":26.6,"y":0.002},
{"x":27.1,"y":0.0447},{"x":27.1,"y":0.0355},{"x":27.1,"y":0.0282},{"x":27.1,"y":0.0224},{"x":27.1,"y":0.0178},{"x":27.1,"y":0.0141},{"x":27.1,"y":0.0112},{"x":27.1,"y":0.00891},{"x":27.1,"y":0.00708},{"x":27.1,"y":0.00562},{"x":27.1,"y":0.00447},{"x":27.1,"y":0.00355},{"x":27.1,"y":0.00282},{"x":27.1,"y":0.00224},
{"x":27.6,"y":0.0398},{"x":27.6,"y":0.0316},{"x":27.6,"y":0.0251},{"x":27.6,"y":0.02},{"x":27.6,"y":0.0158},{"x":27.6,"y":0.0126},{"x":27.6,"y":0.01},{"x":27.6,"y":0.00794},{"x":27.6,"y":0.00631},{"x":27.6,"y":0.00501},{"x":27.6,"y":0.00398},{"x":27.6,"y":0.00316},{"x":27.6,"y":0.00251},{"x":27.6,"y":0.002},
{"x":28.0,"y":0.0282},{"x":28.0,"y":0.0224},{"x":28.0,"y":0.0178},{"x":28.0,"y":0.0141},{"x":28.0,"y":0.0112},{"x":28.0,"y":0.00891},{"x":28.0,"y":0.00708},{"x":28.0,"y":0.00562},{"x":28.0,"y":0.00447},{"x":28.0,"y":0.00355},{"x":28.0,"y":0.00282},{"x":28.0,"y":0.00224},
{"x":11.4,"y":0.21},{"x":12.8,"y":0.22},{"x":14.8,"y":0.26},{"x":15.6,"y":0.17},{"x":16.7,"y":0.14},{"x":17.5,"y":0.15},{"x":18.1,"y":0.15},{"x":19.0,"y":0.153},{"x":19.2,"y":0.24},{"x":20.1,"y":0.26},{"x":21.7,"y":0.225},{"x":21.5,"y":0.14},{"x":22.5,"y":0.1},{"x":23.5,"y":0.085},{"x":24.8,"y":0.113},{"x":26.0,"y":0.07},{"x":27.3,"y":0.065},{"x":28.3,"y":0.05}
],
"eq": [
{"x":0.1,"y":3.5},{"x":0.6,"y":2.6},{"x":1.2,"y":1.9},{"x":2.0,"y":1.1},{"x":3.0,"y":0.93},{"x":4.0,"y":0.82},{"x":5.0,"y":0.7},{"x":6.2,"y":0.61},{"x":7.5,"y":0.53},{"x":8.5,"y":0.47},{"x":10.0,"y":0.42},{"x":12.0,"y":0.36},{"x":14.0,"y":0.32},{"x":16.0,"y":0.28},{"x":18.5,"y":0.236},{"x":21.0,"y":0.2},{"x":23.0,"y":0.167},{"x":26.0,"y":0.145},{"x":29.4,"y":0.13},{"x":33.0,"y":0.113},{"x":36.0,"y":0.104},{"x":40.0,"y":0.096},{"x":45.0,"y":0.085},{"x":50.0,"y":0.074},{"x":53.6,"y":0.067},{"x":57.0,"y":0.062},{"x":59.8,"y":0.058},{"x":61.5,"y":0.056},{"x":64.2,"y":0.0475},{"x":67.5,"y":0.0425},{"x":71.1,"y":0.0346},{"x":74.8,"y":0.0288},{"x":76.7,"y":0.0247},{"x":78.8,"y":0.0183},{"x":79.8,"y":0.0102},{"x":81.3,"y":0.009},{"x":85.0,"y":0.0069},{"x":87.8,"y":0.005},{"x":90.1,"y":0.0034},{"x":91.9,"y":0.0029}
],
"std30": [
{"x":0.1,"y":1.4},{"x":0.8,"y":0.8},{"x":1.6,"y":0.45},{"x":2.5,"y":0.37},{"x":3.9,"y":0.31},{"x":6.2,"y":0.24},{"x":8.0,"y":0.2},{"x":9.9,"y":0.172},{"x":12.0,"y":0.145},{"x":15.7,"y":0.108},{"x":18.5,"y":0.087},{"x":21.3,"y":0.07},{"x":25.0,"y":0.059},{"x":28.2,"y":0.0516},{"x":32.0,"y":0.045},{"x":36.0,"y":0.041},{"x":40.0,"y":0.039},{"x":45.0,"y":0.033},{"x":50.0,"y":0.029},{"x":53.6,"y":0.0267},{"x":59.8,"y":0.0233},{"x":61.5,"y":0.0224},{"x":64.2,"y":0.0191},{"x":67.5,"y":0.0164},{"x":71.1,"y":0.0137},{"x":74.8,"y":0.0114},{"x":77.7,"y":0.0084},{"x":78.9,"y":0.0069},{"x":79.5,"y":0.004},{"x":81.3,"y":0.0035},{"x":85.0,"y":0.0029},{"x":87.8,"y":0.0022},{"x":90.1,"y":0.0015},{"x":91.1,"y":0.0012}
],
"p90": [{"x":0,"y":1.05},{"x":10,"y":1.05},{"x":10,"y":0.075},{"x":38.5,"y":0.075}],
"med": [{"x":0,"y":0.18},{"x":10,"y":0.18},{"x":10,"y":0.015},{"x":40,"y":0.015}],
"zones": [{"x":10},{"x":40},{"x":60},{"x":90}],
"zlabels": [
{"x":5,"y":800,"text":["High","Flows"]},
{"x":25.5,"y":800,"text":["Moist","Conditions"]},
{"x":50,"y":800,"text":["Mid-Range","Flows"]},
{"x":75,"y":800,"text":["Dry","Conditions"]},
{"x":94.7,"y":800,"text":["Low","Flows"]}
],
"boxes": [
{"x":100,"x2":122.3,"y":1000,"y2":0.183},
{"x":100,"x2":122.3,"y":0.183,"y2":0.00036},
{"x":100,"x2":122.3,"y":0.00036,"y2":0.0001}
],
"frame": [{"x":-14.7,"x2":126,"y":7000,"y2":0.000015}],
"note": [{"x":101.4,"y":0.14,"text":["Note: DTS-12 Turbidity","sensor was out of the","water in the Low to","Mid-Range flow levels.","All Turbidity","measurements were","estimated to be below","the 30 mg/L standard.","All measurements in","this range were set to 1","mg/L for percent","calculation"]}],
"shed": [{"x":101.4,"y":0.00033,"text":["Watershed:","4.4 Sq. Mi"]}]
},
"layer": [
{"data": {"name": "frame"}, "mark": {"type": "rect", "fill": null, "stroke": "black", "strokeWidth": 3},
 "encoding": {"x": {"field": "x", "type": "quantitative"}, "x2": {"field": "x2"}, "y": {"field": "y", "type": "quantitative", "scale": {"type": "log"}}, "y2": {"field": "y2"}}},
{"data": {"name": "boxes"}, "mark": {"type": "rect", "fill": null, "stroke": "#333", "strokeWidth": 1.5},
 "encoding": {"x": {"field": "x", "type": "quantitative"}, "x2": {"field": "x2"}, "y": {"field": "y", "type": "quantitative", "scale": {"type": "log"}}, "y2": {"field": "y2"}}},
{"data": {"name": "pts"}, "mark": {"type": "point", "shape": "diamond", "filled": true, "size": 60, "opacity": 1},
 "encoding": {
  "x": {"field": "x", "type": "quantitative", "scale": {"domain": [0, 100], "nice": false, "zero": false},
   "axis": {"title": "Flow Duration Interval (%)", "values": [0,10,20,30,40,50,60,70,80,90,100], "labelExpr": "datum.value + '%'", "grid": false, "domainColor": "black", "domainWidth": 2, "tickColor": "black", "tickWidth": 1.5, "tickSize": 5, "labelFont": "Liberation Sans", "labelFontSize": 16, "labelColor": "#333", "labelPadding": 8, "labelFlush": false, "titleFont": "Liberation Sans", "titleFontSize": 17, "titleFontWeight": "bold", "titleColor": "#111", "titlePadding": 14}},
  "y": {"field": "y", "type": "quantitative", "scale": {"type": "log", "domain": [0.0001, 1000], "nice": false},
   "axis": {"title": "TSS (tons/day)", "values": [0.0001,0.0002,0.0003,0.0004,0.0005,0.0006,0.0007,0.0008,0.0009,0.001,0.002,0.003,0.004,0.005,0.006,0.007,0.008,0.009,0.01,0.02,0.03,0.04,0.05,0.06,0.07,0.08,0.09,0.1,0.2,0.3,0.4,0.5,0.6,0.7,0.8,0.9,1,2,3,4,5,6,7,8,9,10,20,30,40,50,60,70,80,90,100,200,300,400,500,600,700,800,900,1000],
    "labelExpr": "abs(log(datum.value)/LN10 - round(log(datum.value)/LN10)) < 0.000001 ? format(datum.value, ',.4f') : ''",
    "labelOverlap": false, "labelBound": false, "grid": false, "domainColor": "black", "domainWidth": 2, "tickColor": "black", "tickWidth": 1.2,
    "tickSize": {"condition": {"test": "abs(log(datum.value)/LN10 - round(log(datum.value)/LN10)) < 0.000001", "value": 6}, "value": 3},
    "labelFont": "Liberation Sans", "labelFontSize": 15, "labelColor": "#333", "labelPadding": 12,
    "titleFont": "Liberation Sans", "titleFontSize": 18, "titleFontWeight": "bold", "titleColor": "#111", "titleX": -73, "titleY": 310}},
  "fill": {"datum": "TSS Load (tons/day)", "type": "nominal", "title": null, "scale": {"range": ["#3D6FE5"]},
   "legend": {"legendX": 739.5, "legendY": 2.5, "symbolType": "diamond", "symbolSize": 22, "symbolStrokeWidth": 0, "labelOffset": 13.5, "labelExpr": "['TSS Load', '(tons/day)']"}}}},
{"data": {"name": "zones"}, "mark": {"type": "rule", "color": "black", "strokeWidth": 1.8},
 "encoding": {"x": {"field": "x", "type": "quantitative"}}},
{"data": {"name": "eq"}, "mark": {"type": "line", "color": "black"},
 "encoding": {"x": {"field": "x", "type": "quantitative"}, "y": {"field": "y", "type": "quantitative", "scale": {"type": "log"}},
  "strokeWidth": {"datum": "TSS Equivalent to 25 NTU Turbidity Standard (120 mg/L TSS)", "type": "nominal", "title": null, "scale": {"range": [3, 3]},
   "legend": {"legendX": 723, "legendY": 193, "symbolType": "stroke", "symbolSize": 900, "symbolStrokeColor": "black", "labelOffset": 11, "labelExpr": "['TSS Equivalent to', '25 NTU Turbidity', 'Standard (120', 'mg/L TSS)']"}}}},
{"data": {"name": "std30"}, "mark": {"type": "line", "color": "black", "strokeWidth": 3},
 "encoding": {"x": {"field": "x", "type": "quantitative"}, "y": {"field": "y", "type": "quantitative", "scale": {"type": "log"}},
  "strokeDash": {"datum": "30 mg/l TSS Standard", "type": "nominal", "title": null, "scale": {"range": [[9, 4]]},
   "legend": {"legendX": 723, "legendY": 261.3, "symbolType": "stroke", "symbolSize": 900, "symbolStrokeColor": "black", "symbolStrokeWidth": 3, "labelOffset": 11, "labelExpr": "['30 mg/l TSS', 'Standard']"}}}},
{"data": {"name": "p90"}, "mark": {"type": "line", "strokeWidth": 3, "strokeDash": [28, 12]},
 "encoding": {"x": {"field": "x", "type": "quantitative"}, "y": {"field": "y", "type": "quantitative", "scale": {"type": "log"}},
  "stroke": {"datum": "90th Percentile", "type": "nominal", "title": null, "scale": {"range": ["#7B237E"]},
   "legend": {"legendX": 723, "legendY": 59.7, "symbolType": "stroke", "symbolSize": 900, "symbolStrokeWidth": 3, "symbolDash": [1, 0], "labelOffset": 11}}}},
{"data": {"name": "med"}, "mark": {"type": "line", "strokeWidth": 3},
 "encoding": {"x": {"field": "x", "type": "quantitative"}, "y": {"field": "y", "type": "quantitative", "scale": {"type": "log"}},
  "color": {"datum": "Median", "type": "nominal", "title": null, "scale": {"range": ["#7B237E"]},
   "legend": {"legendX": 723, "legendY": 126.3, "symbolType": "stroke", "symbolSize": 900, "symbolStrokeWidth": 3, "labelOffset": 11}}}},
{"data": {"name": "zlabels"}, "mark": {"type": "text", "font": "DejaVu Sans", "fontSize": 15, "color": "#111", "baseline": "top", "align": "center", "lineHeight": 22},
 "encoding": {"x": {"field": "x", "type": "quantitative"}, "y": {"field": "y", "type": "quantitative", "scale": {"type": "log"}}, "text": {"field": "text"}}},
{"data": {"name": "note"}, "mark": {"type": "text", "font": "Lato", "fontSize": 14, "color": "#222", "baseline": "top", "align": "left", "lineHeight": 18.45},
 "encoding": {"x": {"field": "x", "type": "quantitative"}, "y": {"field": "y", "type": "quantitative", "scale": {"type": "log"}}, "text": {"field": "text"}}},
{"data": {"name": "shed"}, "mark": {"type": "text", "font": "Liberation Sans", "fontSize": 13.5, "color": "#222", "baseline": "top", "align": "left", "lineHeight": 16},
 "encoding": {"x": {"field": "x", "type": "quantitative"}, "y": {"field": "y", "type": "quantitative", "scale": {"type": "log"}}, "text": {"field": "text"}}}
]
}
